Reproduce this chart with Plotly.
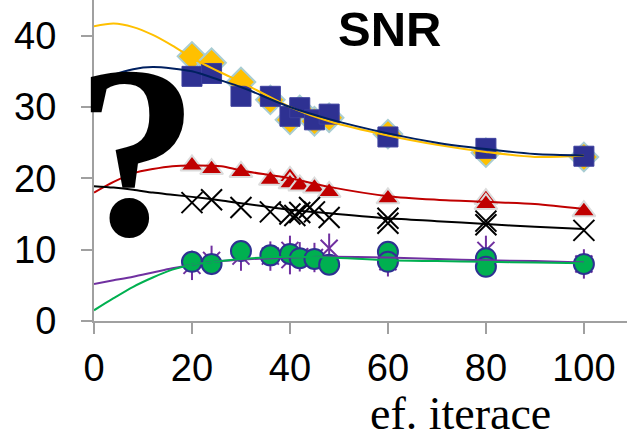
import plotly.graph_objects as go

# ---- data ----
dia_x = [20, 24, 30, 36, 40, 42, 45, 48, 60, 80, 100]
dia_y = [37.1, 36.2, 33.5, 31.0, 28.2, 29.6, 28.0, 28.5, 26.2, 23.6, 23.0]

sq_x = [20, 24, 30, 36, 40, 42, 45, 48, 60, 80, 100]
sq_y = [34.3, 34.7, 31.5, 31.5, 28.7, 29.9, 28.2, 29.0, 25.8, 24.2, 23.1]

tri_x = [20, 24, 30, 36, 40, 40, 42, 45, 48, 60, 80, 80, 100]
tri_y = [21.8, 21.3, 20.9, 19.8, 20.2, 19.3, 19.0, 18.7, 18.1, 17.2, 17.1, 16.4, 15.4]

x_x = [20, 24, 30, 36, 40, 41, 42, 44, 45, 48, 60, 60, 80, 80, 100]
x_y = [16.6, 17.0, 15.9, 15.3, 15.0, 14.8, 15.2, 15.9, 15.3, 14.5, 14.4, 13.7, 14.0, 13.5, 12.7]

star_x = [20, 24, 30, 36, 40, 40, 42, 45, 48, 60, 80, 100]
star_y = [7.8, 8.5, 9.1, 9.1, 9.9, 8.6, 9.0, 8.9, 10.2, 8.3, 9.9, 8.0]

circ_x = [20, 24, 30, 36, 40, 42, 45, 48, 60, 60, 80, 80, 100]
circ_y = [8.3, 8.0, 9.8, 9.2, 9.4, 8.8, 8.7, 7.9, 9.7, 8.3, 8.8, 7.6, 8.0]

trend_x = [0, 4, 8, 12, 16, 20, 26, 30, 40, 48, 60, 70, 80, 90, 100]
trend_yellow = [41.3, 41.7, 41.2, 40.1, 38.6, 36.9, 34.8, 33.5, 30.0, 28.0, 26.0, 24.7, 23.7, 23.0, 23.2]
trend_navy = [33.3, 34.5, 35.3, 35.6, 35.4, 35.0, 33.7, 32.8, 30.0, 28.3, 26.3, 25.0, 24.1, 23.4, 23.2]
trend_red = [18.0, 19.5, 20.7, 21.3, 21.7, 21.8, 21.7, 21.1, 20.0, 18.8, 17.5, 17.0, 16.7, 16.4, 15.7]
trend_black = [18.9, 18.7, 18.4, 18.0, 17.7, 17.4, 16.9, 16.5, 15.6, 15.1, 14.4, 14.0, 13.6, 13.2, 12.9]
trend_green = [1.5, 3.2, 4.8, 6.1, 7.2, 7.9, 8.4, 8.7, 9.0, 8.9, 8.5, 8.4, 8.3, 8.2, 8.1]
trend_purple = [5.2, 5.7, 6.2, 6.8, 7.4, 7.9, 8.4, 8.6, 8.9, 9.0, 8.9, 8.7, 8.5, 8.4, 8.2]

x_ticks = [0, 20, 40, 60, 80, 100]
y_ticks = [0, 10, 20, 30, 40]

title_text = "SNR"
x_title = "ef. iterace"
mark_text = "?"

YELLOW = "#FFC000"
NAVY = "#2E3192"
DNAVY = "#002060"
RED = "#C00000"
PURPLE = "#7030A0"
GREEN = "#00B050"

fig = go.Figure()

fig.add_trace(go.Scatter(x=dia_x, y=dia_y, mode="markers",
                         marker=dict(symbol="diamond", size=22, color=YELLOW,
                                     line=dict(color="#A9CDD2", width=2))))
fig.add_trace(go.Scatter(x=sq_x, y=sq_y, mode="markers",
                         marker=dict(symbol="square", size=20, color=NAVY,
                                     line=dict(color="#3C3F9E", width=1))))
fig.add_trace(go.Scatter(x=tri_x, y=tri_y, mode="markers",
                         marker=dict(symbol="triangle-up", size=20, color=RED,
                                     line=dict(color="#DCDCDC", width=2))))
fig.add_trace(go.Scatter(x=x_x, y=x_y, mode="markers",
                         marker=dict(symbol="x-thin-open", size=21, color="black",
                                     line=dict(color="black", width=2))))
fig.add_trace(go.Scatter(x=star_x, y=star_y, mode="markers",
                         marker=dict(symbol="x-thin-open", size=17, color=PURPLE,
                                     line=dict(color=PURPLE, width=2))))
fig.add_trace(go.Scatter(x=star_x, y=star_y, mode="markers",
                         marker=dict(symbol="line-ns-open", size=21, color=PURPLE,
                                     line=dict(color=PURPLE, width=2))))
fig.add_trace(go.Scatter(x=circ_x, y=circ_y, mode="markers",
                         marker=dict(symbol="circle", size=20, color=GREEN,
                                     line=dict(color=NAVY, width=2))))

for ys, col in [(trend_yellow, YELLOW), (trend_navy, DNAVY), (trend_red, RED),
                (trend_black, "black"), (trend_purple, PURPLE), (trend_green, GREEN)]:
    fig.add_trace(go.Scatter(x=trend_x, y=ys, mode="lines",
                             line=dict(color=col, width=2, shape="spline", smoothing=0.8)))

fig.add_annotation(x=8.9, y=23.6, xref="x", yref="y", text="<b>" + mark_text + "</b>",
                   showarrow=False, xanchor="center", yanchor="middle",
                   font=dict(family="Liberation Serif", size=245, color="black"))
fig.add_annotation(x=60.3, y=40.9, xref="x", yref="y", text="<b>" + title_text + "</b>",
                   showarrow=False, xanchor="center", yanchor="middle",
                   font=dict(family="Liberation Sans", size=49, color="black"))
fig.add_annotation(x=0.688, y=-0.287, xref="paper", yref="paper", text=x_title,
                   showarrow=False, xanchor="center", yanchor="middle",
                   font=dict(family="Liberation Serif", size=46, color="black"))

axis_common = dict(showgrid=False, zeroline=False, showline=True, linecolor="#A0A0A0",
                   linewidth=2, ticks="outside", ticklen=11, tickwidth=2, tickcolor="#A0A0A0",
                   automargin=False,
                   tickfont=dict(family="Liberation Sans", size=38, color="black"))

fig.update_xaxes(range=[0, 108.8], tickvals=x_ticks, ticktext=[str(v) for v in x_ticks],
                 ticklabelstandoff=1, **axis_common)
fig.update_yaxes(range=[0, 45], tickvals=y_ticks, ticktext=[str(v) for v in y_ticks],
                 ticklabelstandoff=17, **axis_common)

fig.update_layout(width=627, height=434, margin=dict(l=94, r=0, t=0, b=113),
                  paper_bgcolor="white", plot_bgcolor="white", showlegend=False)

fig.write_html("out.html", config={"displayModeBar": False},
               post_script="document.body.style.margin='0px';")
